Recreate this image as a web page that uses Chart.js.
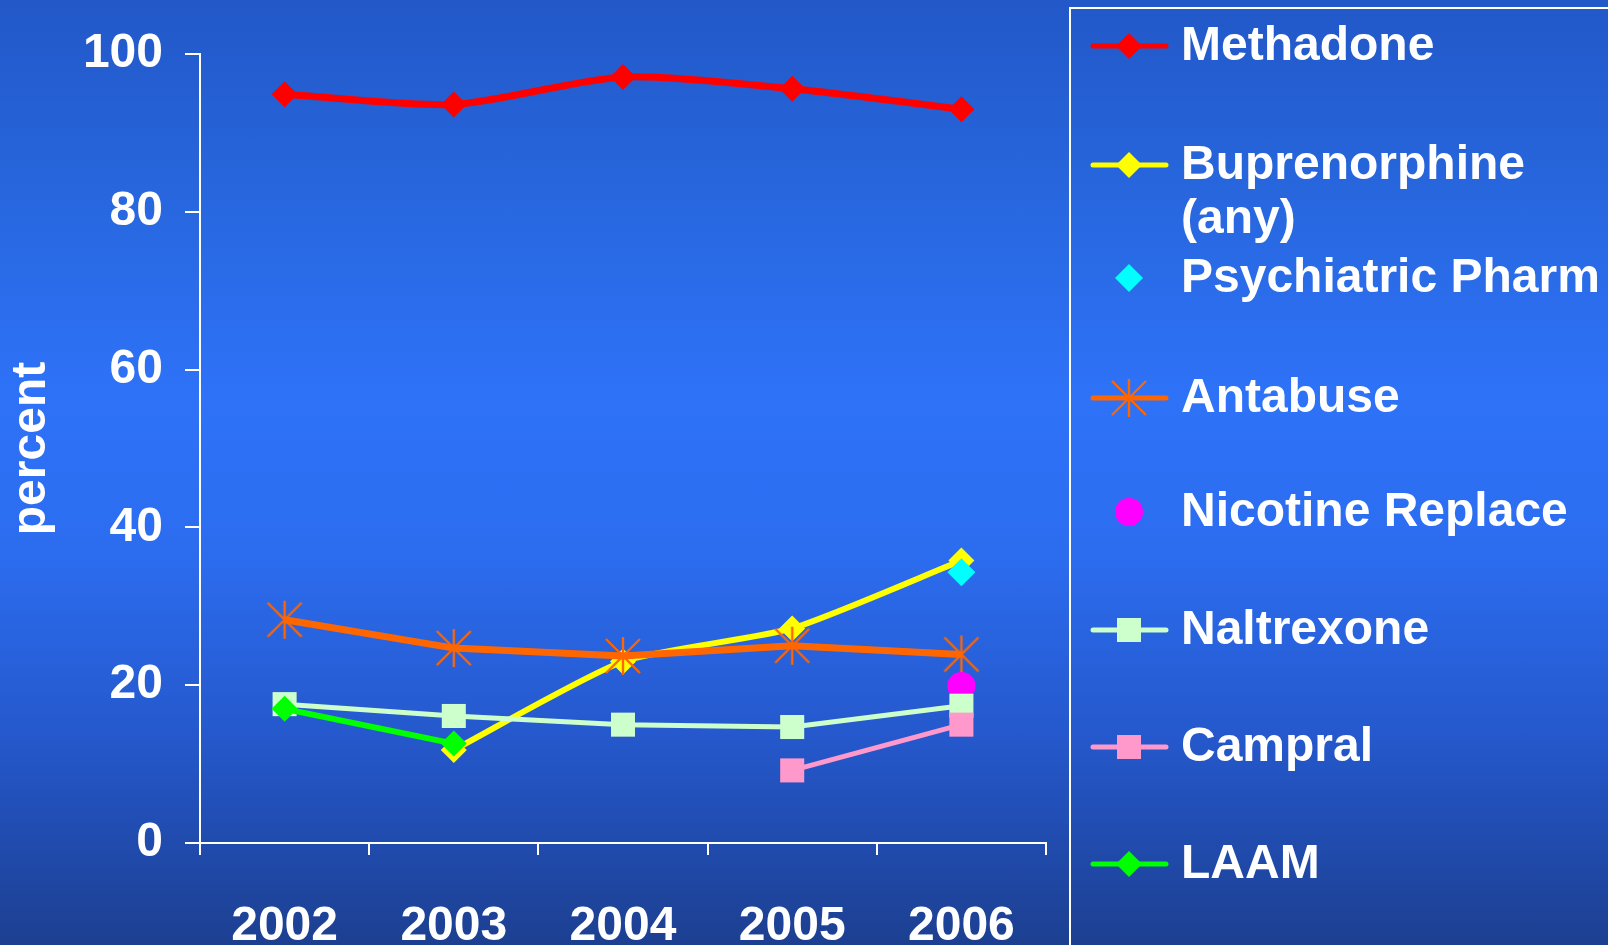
<!DOCTYPE html>
<html>
<head>
<meta charset="utf-8">
<script src="https://cdn.jsdelivr.net/npm/chart.js@4.4.0/dist/chart.umd.min.js"></script>
<style>
  html, body { margin: 0; padding: 0; width: 1608px; height: 945px; overflow: hidden; }
  body { background: linear-gradient(to bottom, #2258c8 0%, #2766dd 20%, #2e72f8 42%, #2c6df0 58%, #2558cc 78%, #1c3f90 100%); }
  #wrap { position: relative; width: 1608px; height: 945px; }
</style>
</head>
<body>
<div id="wrap"><canvas id="chart"></canvas></div>
<script>
// values (percent)
const years = ['2002', '2003', '2004', '2005', '2006'];
const methadone     = [94.9, 93.6, 97.1, 95.6, 93.0];
const buprenorphine = [null, 11.8, 23.0, 27.2, 35.8];
const psychiatric   = [null, null, null, null, 34.3];
const antabuse      = [28.3, 24.7, 23.7, 25.0, 23.9];
const nicotine      = [null, null, null, null, 19.9];
const naltrexone    = [17.6, 16.1, 15.0, 14.7, 17.4];
const campral       = [null, null, null, 9.2, 15.0];
const laam          = [17.0, 12.6, null, null, null];
const yTicks = [0, 20, 40, 60, 80, 100];

// legend text, split the way the slide wraps it
const legendLabels = [
  ['Methadone'], ['Buprenorphine', '(any)'], ['Psychiatric Pharm'], ['Antabuse'],
  ['Nicotine Replace'], ['Naltrexone'], ['Campral'], ['LAAM']
];

const FONT = '"Liberation Sans", Arial, sans-serif';

// six-spoke asterisk marker (vertical + two diagonals), like the slide's
function asterisk(color) {
  const c = document.createElement('canvas');
  c.width = 38; c.height = 40;
  const g = c.getContext('2d');
  g.strokeStyle = color;
  g.lineWidth = 2.4;
  g.beginPath();
  g.moveTo(19, 1); g.lineTo(19, 39);
  g.moveTo(2, 3); g.lineTo(36, 37);
  g.moveTo(36, 3); g.lineTo(2, 37);
  g.stroke();
  return c;
}

function series(label, data, color, style, radius, width, order, extra) {
  return Object.assign({
    label: label, data: data, order: order,
    borderColor: color, backgroundColor: color,
    pointBackgroundColor: color, pointBorderColor: color,
    pointStyle: style, pointRadius: radius, pointBorderWidth: 0,
    borderWidth: width, spanGaps: false, tension: 0
  }, extra || {});
}

const datasets = [
  series('Methadone', methadone, '#ff0000', 'rectRot', 13, 7, 8, { tension: 0.25 }),
  series('Buprenorphine (any)', buprenorphine, '#ffff00', 'rectRot', 13, 6, 7, { tension: 0.2 }),
  series('Psychiatric Pharm', psychiatric, '#00ffff', 'rectRot', 14, 0, 6, { showLine: false }),
  series('Antabuse', antabuse, '#ff6600', asterisk('#ff6600'), 19, 7, 5),
  series('Nicotine Replace', nicotine, '#ff00ff', 'circle', 14, 0, 4, { showLine: false }),
  series('Naltrexone', naltrexone, '#ccffcc', 'rect', 17, 5, 3),
  series('Campral', campral, '#ff99cc', 'rect', 17, 5, 2),
  series('LAAM', laam, '#00ff00', 'rectRot', 13, 6, 1)
];

// custom legend: box on the right, one row per series
const slideLegend = {
  id: 'slideLegend',
  afterDraw(chart) {
    const ctx = chart.ctx;
    const rows = [46, 165, 278, 398, 512, 630, 747, 864];
    ctx.save();
    ctx.strokeStyle = '#ffffff';
    ctx.lineWidth = 2;
    ctx.strokeRect(1070, 8, 600, 1000);
    chart.data.datasets.forEach((ds, i) => {
      const y = rows[i];
      if (ds.showLine !== false) {
        ctx.beginPath();
        ctx.strokeStyle = ds.borderColor;
        ctx.lineWidth = 5;
        ctx.lineCap = 'round';
        ctx.moveTo(1093, y);
        ctx.lineTo(1166, y);
        ctx.stroke();
      }
      ctx.fillStyle = ds.pointBackgroundColor;
      ctx.strokeStyle = ds.pointBorderColor;
      ctx.lineWidth = 0;
      Chart.helpers.drawPoint(ctx, {
        pointStyle: ds.pointStyle, radius: ds.pointRadius, rotation: 0, borderWidth: 0
      }, 1129, y);
      ctx.fillStyle = '#ffffff';
      ctx.font = 'bold 48px ' + FONT;
      ctx.textBaseline = 'middle';
      ctx.textAlign = 'left';
      legendLabels[i].forEach((t, k) => ctx.fillText(t, 1181, y + 1 + k * 54));
    });
    ctx.restore();
  }
};

new Chart(document.getElementById('chart'), {
  type: 'line',
  data: { labels: years, datasets: datasets },
  plugins: [slideLegend],
  options: {
    responsive: true,
    maintainAspectRatio: false,
    animation: false,
    layout: { padding: { top: 54, right: 562, left: 0, bottom: 0 } },
    plugins: { legend: { display: false }, tooltip: { enabled: false } },
    scales: {
      x: {
        type: 'category',
        offset: true,
        grid: { offset: true, drawOnChartArea: false, drawTicks: true, tickLength: 12, color: '#ffffff', lineWidth: 2 },
        border: { display: true, color: '#ffffff', width: 2 },
        ticks: { color: '#ffffff', font: { family: FONT, size: 48, weight: 'bold' }, padding: 43, maxRotation: 0 },
        afterFit(scale) { scale.height = 102; }
      },
      y: {
        min: 0, max: 100,
        afterBuildTicks(scale) { scale.ticks = yTicks.map(v => ({ value: v })); },
        grid: { drawOnChartArea: false, drawTicks: true, tickLength: 15, color: '#ffffff', lineWidth: 2 },
        border: { display: true, color: '#ffffff', width: 2 },
        ticks: { color: '#ffffff', font: { family: FONT, size: 48, weight: 'bold' }, padding: 22 },
        title: { display: true, text: 'percent', color: '#ffffff', font: { family: FONT, size: 48, weight: 'bold' }, padding: { top: 3, bottom: 0 } },
        afterFit(scale) { scale.width = 200; }
      }
    }
  }
});
</script>
</body>
</html>
